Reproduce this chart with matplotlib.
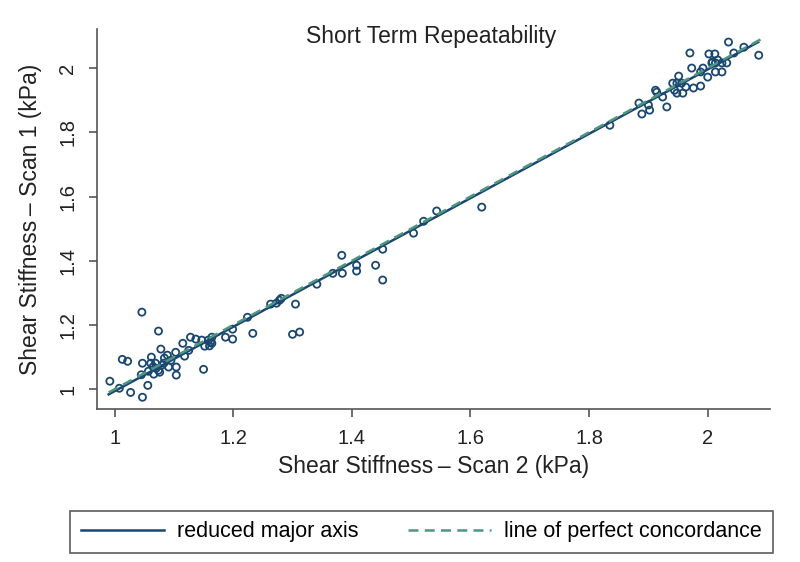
import numpy as np
import matplotlib.pyplot as plt

plt.rcParams['font.family'] = ['Liberation Sans', 'DejaVu Sans']

# scan 2 (x) and scan 1 (y) shear stiffness, kPa
scan2 = [0.992, 1.008, 1.013, 1.022, 1.027, 1.046, 1.047, 1.047, 1.056, 1.057,
         1.061, 1.062, 1.066, 1.069, 1.074, 1.074, 1.076, 1.078, 1.083, 1.084,
         1.089, 1.091, 1.103, 1.104, 1.104, 1.115, 1.118, 1.125, 1.128, 1.137,
         1.147, 1.150, 1.152, 1.158, 1.164, 1.164, 1.160, 1.162, 1.187, 1.199,
         1.199, 1.224, 1.233, 1.263, 1.273, 1.278, 1.281, 1.305, 1.300, 1.312,
         1.341, 1.070, 1.080, 1.095, 1.045, 1.065,
         1.368, 1.383, 1.384, 1.408, 1.408, 1.440, 1.452, 1.452, 1.504, 1.521,
         1.543, 1.619,
         1.835, 1.884, 1.889, 1.902, 1.900, 1.914, 1.924, 1.931,
         2.035, 1.970, 2.002, 2.012, 2.061, 2.086, 2.044, 2.008, 2.017, 2.007,
         2.013, 2.024, 2.032, 1.973, 1.992, 1.988, 2.000, 2.013, 2.024, 1.951,
         1.941, 1.948, 1.956, 1.963, 1.944, 1.948, 1.958, 1.976, 1.988, 1.912]
scan1 = [1.025, 1.003, 1.093, 1.087, 0.990, 1.240, 0.975, 1.081, 1.012, 1.056,
         1.081, 1.100, 1.047, 1.081, 1.181, 1.059, 1.053, 1.125, 1.081, 1.097,
         1.106, 1.069, 1.115, 1.069, 1.044, 1.143, 1.103, 1.121, 1.162, 1.156,
         1.153, 1.062, 1.134, 1.153, 1.162, 1.143, 1.135, 1.148, 1.162, 1.156,
         1.187, 1.224, 1.174, 1.265, 1.268, 1.277, 1.283, 1.265, 1.171, 1.178,
         1.327, 1.065, 1.075, 1.090, 1.045, 1.070,
         1.361, 1.417, 1.361, 1.386, 1.368, 1.386, 1.436, 1.340, 1.486, 1.523,
         1.555, 1.567,
         1.822, 1.891, 1.857, 1.869, 1.885, 1.925, 1.910, 1.879,
         2.081, 2.047, 2.044, 2.044, 2.065, 2.040, 2.047, 2.019, 2.025, 2.016,
         2.016, 2.016, 2.016, 2.000, 2.000, 1.988, 1.972, 1.988, 1.988, 1.975,
         1.953, 1.953, 1.953, 1.941, 1.931, 1.922, 1.922, 1.938, 1.944, 1.931]

# fitted lines (end points)
rma_x = [0.99, 2.085]
rma_y = [0.984, 2.081]
conc_x = [0.99, 2.09]
conc_y = [0.99, 2.09]

xticks = [1, 1.2, 1.4, 1.6, 1.8, 2]
xticklabels = ['1', '1.2', '1.4', '1.6', '1.8', '2']
yticks = [1, 1.2, 1.4, 1.6, 1.8, 2]
yticklabels = ['1', '1.2', '1.4', '1.6', '1.8', '2']

navy = '#1a476f'
teal = '#4f9580'

fig = plt.figure(figsize=(8, 5.62), dpi=100)
ax = fig.add_axes([0.121, 0.272, 0.8415, 0.676])

ax.scatter(scan2, scan1, s=26, facecolors='none', edgecolors=navy,
           linewidths=1.3, zorder=3)
l1, = ax.plot(rma_x, rma_y, color=navy, lw=1.8, zorder=4,
              label='reduced major axis')
l2, = ax.plot(conc_x, conc_y, color=teal, lw=1.8, ls=(0, (4, 2.5)), zorder=4,
              label='line of perfect concordance')

ax.set_xlim(0.970, 2.105)
ax.set_ylim(0.938, 2.121)
ax.set_xticks(xticks)
ax.set_xticklabels(xticklabels)
ax.set_yticks(yticks)
ax.set_yticklabels(yticklabels, rotation=90, va='center')

for s in ['top', 'right']:
    ax.spines[s].set_visible(False)
for s in ['left', 'bottom']:
    ax.spines[s].set_color('#555555')
    ax.spines[s].set_linewidth(1.2)
ax.tick_params(axis='both', direction='out', length=6, width=1.2,
               color='#555555', labelsize=14.5, labelcolor='#222222', pad=8)

ax.set_xlabel('Shear Stiffness\u2009\u2013 Scan 2 (kPa)', fontsize=16.5,
              color='#222222', labelpad=5)
ax.set_ylabel('Shear Stiffness\u2009\u2013 Scan 1 (kPa)', fontsize=16.5,
              color='#222222', labelpad=12)
fig.text(0.539, 0.935, 'Short Term Repeatability', ha='center', va='center',
         fontsize=16.5, color='#222222')

leg = fig.legend(handles=[l1, l2], loc='center', ncol=2,
                 bbox_to_anchor=(421.5 / 800, 1 - 532 / 562),
                 fontsize=15.5, frameon=True, fancybox=False,
                 handlelength=3.86, handletextpad=0.6, columnspacing=2.3,
                 borderpad=0.5, borderaxespad=0)
leg.get_frame().set_edgecolor('#333333')
leg.get_frame().set_linewidth(1.2)

fig.savefig('out.png', dpi=100)
